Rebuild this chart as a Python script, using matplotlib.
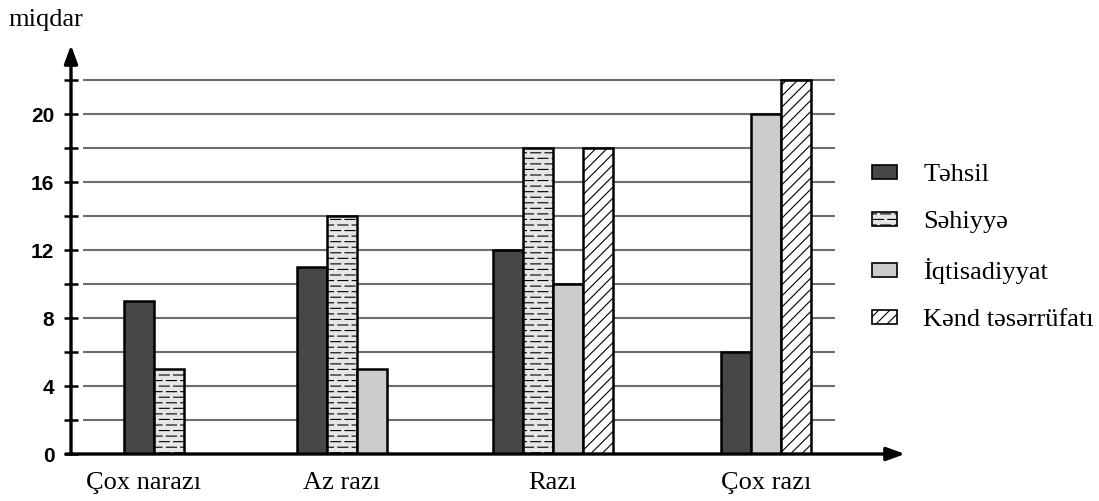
import numpy as np
import matplotlib
matplotlib.use('Agg')
import matplotlib.pyplot as plt
import matplotlib.hatch as mhatch
from matplotlib.path import Path
from matplotlib.patches import Patch

# ---- data ----
categories = ['Çox narazı', 'Az razı', 'Razı', 'Çox razı']
series_names = ['Təhsil', 'Səhiyyə', 'İqtisadiyyat', 'Kənd təsərrüfatı']
tehsil = [9, 11, 12, 6]
sehiyye = [5, 14, 18, 0]
iqtisadiyyat = [0, 5, 10, 20]
kend = [0, 0, 18, 22]
y_tick_labels = [0, 4, 8, 12, 16, 20]
y_label = 'miqdar'

# ---- custom dashed hatch (replaces '-' hatch) ----
class DashHatch(mhatch.HatchPatternBase):
    rows = 18
    cols = 7
    dash = 0.10

    def __init__(self, hatch, density):
        self.segs = []
        if hatch.count('-') > 0:
            for r in range(self.rows):
                y = (r + 0.5) / self.rows
                if r % 2 == 0:
                    for j in range(self.cols):
                        c = (j + 0.5) / self.cols
                        self.segs.append((c - self.dash / 2, c + self.dash / 2, y))
                else:
                    for j in range(self.cols + 1):
                        c = j / self.cols
                        self.segs.append((max(0.0, c - self.dash / 2),
                                          min(1.0, c + self.dash / 2), y))
        self.num_vertices = 2 * len(self.segs)

    def set_vertices_and_codes(self, vertices, codes):
        for k, (x0, x1, y) in enumerate(self.segs):
            vertices[2 * k] = (x0, y)
            vertices[2 * k + 1] = (x1, y)
            codes[2 * k] = Path.MOVETO
            codes[2 * k + 1] = Path.LINETO

mhatch._hatch_types[0] = DashHatch

plt.rcParams['hatch.linewidth'] = 0.8
SERIF = ['Liberation Serif', 'DejaVu Serif']
SANS = ['Liberation Sans', 'DejaVu Sans']

styles = [
    dict(facecolor='#474747', hatch=None),
    dict(facecolor='#e6e6e6', hatch='-'),
    dict(facecolor='#cccccc', hatch=None),
    dict(facecolor='white', hatch='///'),
]

W, H = 1099, 501
fig = plt.figure(figsize=(W / 100, H / 100), dpi=100)
ax = fig.add_axes([71 / W, 47 / H, (905 - 71) / W, (454 - 45) / H])

group_pos = [0.0, 0.89, 1.89, 2.90]
label_pos = [-0.05, 0.89, 1.89, 2.90]
bar_w = 0.142
ymax = 409 / 17.0

ax.set_xlim(-0.393, 3.559)
ax.set_ylim(0, ymax)

# grid lines
grid_vals = np.arange(2, 23, 2)
ax.hlines(grid_vals, -0.336, 3.227, colors='#6e6e6e', linewidth=1.5, zorder=1)

all_series = [tehsil, sehiyye, iqtisadiyyat, kend]
for ci, gp in enumerate(group_pos):
    present = [si for si in range(4) if all_series[si][ci] > 0]
    n = len(present)
    for k, si in enumerate(present):
        x = gp + (k - (n - 1) / 2) * bar_w
        ax.bar(x, all_series[si][ci], width=bar_w, edgecolor='black',
               linewidth=1.8, zorder=3, **styles[si])

# axes / spines
for s in ax.spines.values():
    s.set_visible(False)
ax.annotate('', xy=(0, 1), xytext=(0, 0), xycoords='axes fraction',
            arrowprops=dict(arrowstyle='-|>,head_length=1.1,head_width=0.4',
                            lw=2.4, color='black', shrinkA=0, shrinkB=0),
            zorder=5, annotation_clip=False)
ax.annotate('', xy=(1, 0), xytext=(-0.006, 0), xycoords='axes fraction',
            arrowprops=dict(arrowstyle='-|>,head_length=1.1,head_width=0.4',
                            lw=2.4, color='black', shrinkA=0, shrinkB=0),
            zorder=5, annotation_clip=False)

ax.set_yticks(np.arange(0, 23, 2))
ax.set_yticklabels([str(v) if v in y_tick_labels else '' for v in np.arange(0, 23, 2)],
                   fontweight='bold', fontsize=15, family=SANS)
ax.tick_params(axis='y', direction='inout', length=10, width=1.8, pad=7)

ax.set_xticks(label_pos)
ax.set_xticklabels(categories, fontsize=19, family=SERIF)
ax.tick_params(axis='x', length=0, pad=13)

fig.text(8 / W, 1 - 20 / H, y_label, fontsize=19, family=SERIF, va='center', ha='left')

handles = [Patch(edgecolor='black', linewidth=1.2, **styles[i]) for i in range(4)]
fig.legend(handles, series_names, loc='upper left',
           bbox_to_anchor=(872 / W, 1 - 164 / H), frameon=False,
           prop=dict(family=SERIF, size=19), handlelength=0.95, handleheight=0.45,
           handletextpad=1.0, labelspacing=0.95, borderpad=0, borderaxespad=0)

fig.savefig('out.png', dpi=100)
